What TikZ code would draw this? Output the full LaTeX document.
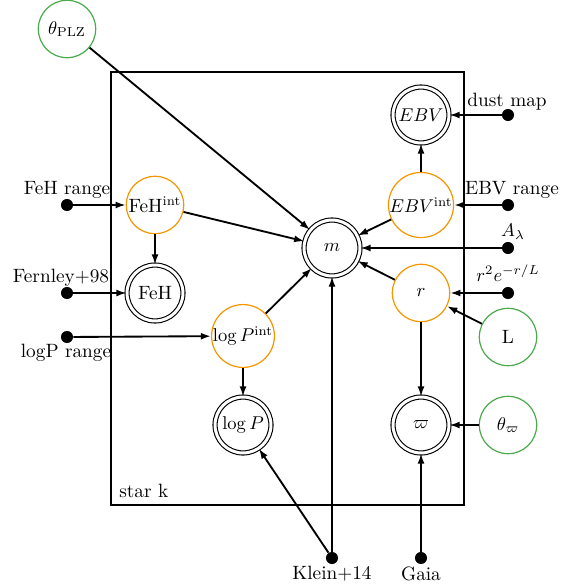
\documentclass[tikz,border=0pt]{standalone}
\usetikzlibrary{arrows.meta}
\definecolor{pgmorange}{RGB}{245,150,0}
\definecolor{pgmgreen}{RGB}{75,170,75}
\begin{document}
\begin{tikzpicture}[x=0.54pt,y=-0.54pt,font=\fontsize{10.4pt}{12pt}\selectfont,
  latent/.style={circle,draw=pgmorange,line width=0.65pt,minimum size=31pt,inner sep=0pt},
  hyper/.style={circle,draw=pgmgreen,line width=0.65pt,minimum size=31pt,inner sep=0pt},
  obs/.style={circle,draw,double,double distance=1.6pt,line width=0.6pt,minimum size=30.2pt,inner sep=0pt},
  dot/.style={circle,fill,inner sep=0pt,minimum size=6.5pt},
  edge/.style={-{Latex[length=5.5pt,width=3.8pt]},line width=1pt},
  lbl/.style={inner sep=0pt}]
\useasboundingbox (0,0) rectangle (577,587);
% plate
\draw[line width=0.6pt] (111,72) rectangle (464,505);
\node[lbl,anchor=west] (platelbl) at (119,491) {star k};
% nodes
\node[hyper] (tplz) at (67,29) {$\theta_{\rm PLZ}$};
\node[obs] (ebv) at (421,115) {$EBV$};
\node[latent] (ebvint) at (421,205) {$EBV^{\rm int}$};
\node[latent] (fehint) at (155,205) {FeH$^{\rm int}$};
\node[obs] (m) at (332,248) {$m$};
\node[obs] (feh) at (155,293) {FeH};
\node[latent] (r) at (421,293) {$r$};
\node[hyper] (L) at (508,337) {L};
\node[latent] (logpint) at (243,336) {$\log P^{\rm int}$};
\node[obs] (logp) at (243,425) {$\log P$};
\node[obs] (plx) at (421,425) {$\varpi$};
\node[hyper] (tplx) at (508,425) {$\theta_\varpi$};
% fixed dots
\node[dot] (dust) at (508,115) {};
\node[lbl] (dustlbl) at (507,102) {dust map};
\node[dot] (ebvr) at (508,205) {};
\node[lbl] (ebvrlbl) at (512,190) {EBV range};
\node[dot] (fehr) at (67,205) {};
\node[lbl] (fehrlbl) at (67,190) {FeH range};
\node[dot] (alam) at (508,248) {};
\node[lbl] (alamlbl) at (513,232) {$A_\lambda$};
\node[dot] (fern) at (67,293) {};
\node[lbl] (fernlbl) at (61,278) {Fernley+98};
\node[dot] (rprior) at (508,293) {};
\node[lbl] (rpriorlbl) at (508,273) {$r^2e^{-r/L}$};
\node[dot] (logpr) at (67,337) {};
\node[lbl] (logprlbl) at (66,353) {logP range};
\node[dot] (klein) at (332,558) {};
\node[lbl] (kleinlbl) at (332,574) {Klein+14};
\node[dot] (gaia) at (421,558) {};
\node[lbl] (gaialbl) at (421,574) {Gaia};
% edges
\draw[edge] (tplz) -- (m);
\draw[edge] (fehr) -- (fehint);
\draw[edge] (fehint) -- (feh);
\draw[edge] (fehint) -- (m);
\draw[edge] (fern) -- (feh);
\draw[edge] (logpr) -- (logpint);
\draw[edge] (logpint) -- (logp);
\draw[edge] (logpint) -- (m);
\draw[edge] (ebvint) -- (ebv);
\draw[edge] (dust) -- (ebv);
\draw[edge] (ebvr) -- (ebvint);
\draw[edge] (ebvint) -- (m);
\draw[edge] (alam) -- (m);
\draw[edge] (r) -- (m);
\draw[edge] (rprior) -- (r);
\draw[edge] (L) -- (r);
\draw[edge] (r) -- (plx);
\draw[edge] (tplx) -- (plx);
\draw[edge] (gaia) -- (plx);
\draw[edge] (klein) -- (m);
\draw[edge] (klein) -- (logp);
\end{tikzpicture}
\end{document}
